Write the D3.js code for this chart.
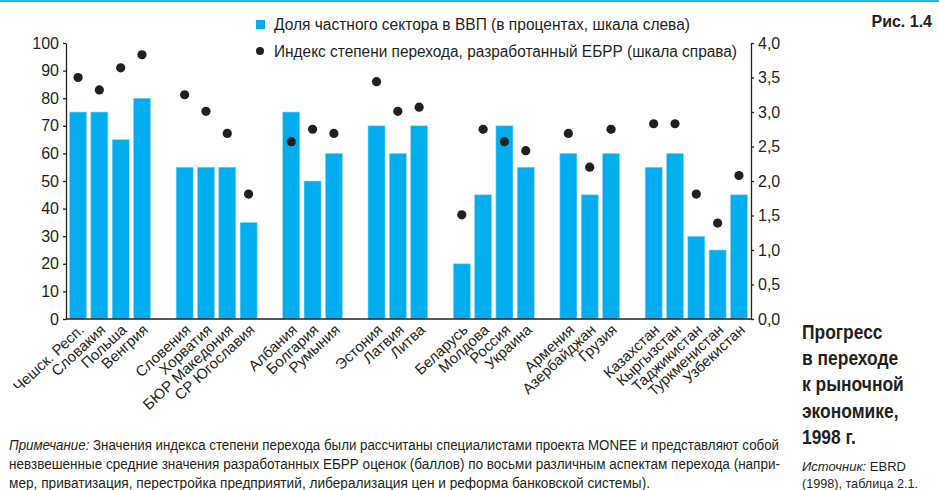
<!DOCTYPE html>
<html>
<head>
<meta charset="utf-8">
<script src="https://cdn.jsdelivr.net/npm/d3@7"></script>
<style>
  body { margin: 0; background: #fff; }
  svg { display: block; font-family: "Liberation Sans", Arial, sans-serif; }
  .axis path, .axis line { stroke: #231f20; stroke-width: 1.3; }
  .axis text { font-size: 16px; fill: #231f20; }
</style>
</head>
<body>
<svg id="chart"></svg>
<script>
/* data */
var countries = ["Чешск. Респ.", "Словакия", "Польша", "Венгрия",
  "Словения", "Хорватия", "БЮР Македония", "СР Югославия",
  "Албания", "Болгария", "Румыния",
  "Эстония", "Латвия", "Литва",
  "Беларусь", "Молдова", "Россия", "Украина",
  "Армения", "Азербайджан", "Грузия",
  "Казахстан", "Кыргызстан", "Таджикистан", "Туркменистан", "Узбекистан"];
var groupSizes = [4, 4, 3, 3, 4, 3, 5];
var privateShare = [75, 75, 65, 80,  55, 55, 55, 35,  75, 50, 60,  70, 60, 70,
  20, 45, 70, 55,  60, 45, 60,  55, 60, 30, 25, 45];
var transitionIndex = [3.5, 3.32, 3.64, 3.83,  3.25, 3.01, 2.69, 1.81,  2.57, 2.75, 2.69,
  3.44, 3.01, 3.07,  1.51, 2.75, 2.57, 2.44,  2.69, 2.2, 2.75,  2.83, 2.83, 1.81, 1.39, 2.08];
var leftTicks = [0, 10, 20, 30, 40, 50, 60, 70, 80, 90, 100];
var rightTicks = [0, 0.5, 1, 1.5, 2, 2.5, 3, 3.5, 4];

var W = 939, H = 490;
var svg = d3.select("#chart").attr("width", W).attr("height", H);

/* top rule */
svg.append("rect").attr("x", 0).attr("y", 0).attr("width", W).attr("height", 2).attr("fill", "#29b6ea");

/* slot domain: countries with one empty slot between groups */
var slots = [], k = 0;
groupSizes.forEach(function(n, gi) {
  for (var i = 0; i < n; i++) slots.push(countries[k++]);
  if (gi < groupSizes.length - 1) slots.push("gap" + gi);
});

var x = d3.scaleBand().domain(slots).range([66, 751]).paddingInner(0.2).paddingOuter(0.165);
var yL = d3.scaleLinear().domain([0, 100]).range([319, 43]);
var yR = d3.scaleLinear().domain([0, 4]).range([319, 43]);

var fmt = function(d) { return d3.format(".1f")(d).replace(".", ","); };

/* bars */
svg.append("g").selectAll("rect")
  .data(countries)
  .join("rect")
    .attr("x", function(d) { return x(d); })
    .attr("y", function(d, i) { return yL(privateShare[i]); })
    .attr("width", x.bandwidth())
    .attr("height", function(d, i) { return yL(0) - yL(privateShare[i]); })
    .attr("fill", "#00aeef")
    .attr("stroke", "#8fdcf8")
    .attr("stroke-width", 0.6);

/* dots */
svg.append("g").selectAll("circle")
  .data(countries)
  .join("circle")
    .attr("cx", function(d) { return x(d) + x.bandwidth() / 2; })
    .attr("cy", function(d, i) { return yR(transitionIndex[i]); })
    .attr("r", 4.6)
    .attr("fill", "#231f20");

/* axes */
svg.append("g")
    .attr("class", "axis")
    .attr("transform", "translate(66,0)")
    .call(d3.axisLeft(yL).tickValues(leftTicks).tickSize(3).tickSizeOuter(0).tickPadding(4));

svg.append("g")
    .attr("class", "axis")
    .attr("transform", "translate(751,0)")
    .call(d3.axisRight(yR).tickValues(rightTicks).tickFormat(fmt).tickSize(3).tickSizeOuter(0).tickPadding(4));

svg.append("line")
    .attr("x1", 66).attr("x2", 751).attr("y1", 319).attr("y2", 319)
    .attr("stroke", "#231f20").attr("stroke-width", 1.3);

/* rotated country labels */
svg.append("g").selectAll("text")
  .data(countries)
  .join("text")
    .attr("transform", function(d) {
      return "translate(" + (x(d) + x.bandwidth() / 2 + 7) + ",331) rotate(-43)";
    })
    .attr("text-anchor", "end")
    .attr("font-size", 15)
    .attr("fill", "#231f20")
    .text(function(d) { return d; });

/* legend */
var legend = svg.append("g").attr("font-size", 16).attr("fill", "#231f20");
legend.append("rect").attr("x", 256).attr("y", 20).attr("width", 9).attr("height", 9).attr("fill", "#00aeef");
legend.append("text").attr("x", 274).attr("y", 30)
  .attr("textLength", 416).attr("lengthAdjust", "spacingAndGlyphs")
  .text("Доля частного сектора в ВВП (в процентах, шкала слева)");
legend.append("circle").attr("cx", 260).attr("cy", 51).attr("r", 4).attr("fill", "#231f20");
legend.append("text").attr("x", 274).attr("y", 57)
  .attr("textLength", 463).attr("lengthAdjust", "spacingAndGlyphs")
  .text("Индекс степени перехода, разработанный ЕБРР (шкала справа)");

/* figure number */
svg.append("text").attr("x", 932).attr("y", 27).attr("text-anchor", "end")
  .attr("font-size", 16).attr("font-weight", "bold").attr("fill", "#231f20").text("Рис. 1.4");

/* side title, condensed */
var titleLines = ["Прогресс", "в переходе", "к рыночной", "экономике,", "1998 г."];
svg.append("g")
    .attr("transform", "translate(802,0) scale(0.85,1)")
  .selectAll("text")
  .data(titleLines)
  .join("text")
    .attr("x", 0)
    .attr("y", function(d, i) { return 339 + i * 26.2; })
    .attr("font-size", 20.5)
    .attr("font-weight", "bold")
    .attr("fill", "#231f20")
    .text(function(d) { return d; });

var src = svg.append("g").attr("font-size", 13.5).attr("fill", "#231f20");
var s1 = src.append("text").attr("x", 802).attr("y", 471)
  .attr("textLength", 104).attr("lengthAdjust", "spacingAndGlyphs");
s1.append("tspan").attr("font-style", "italic").text("Источник:");
s1.append("tspan").text(" EBRD");
src.append("text").attr("x", 802).attr("y", 488)
  .attr("textLength", 116).attr("lengthAdjust", "spacingAndGlyphs")
  .text("(1998), таблица 2.1.");

/* note */
var note = svg.append("g").attr("font-size", 14).attr("fill", "#231f20");
var n1 = note.append("text").attr("x", 9).attr("y", 450)
  .attr("textLength", 770).attr("lengthAdjust", "spacingAndGlyphs");
n1.append("tspan").attr("font-style", "italic").text("Примечание:");
n1.append("tspan").text(" Значения индекса степени перехода были рассчитаны специалистами проекта MONEE и представляют собой");
note.append("text").attr("x", 9).attr("y", 469)
  .attr("textLength", 771).attr("lengthAdjust", "spacingAndGlyphs")
  .text("невзвешенные средние значения разработанных ЕБРР оценок (баллов) по восьми различным аспектам перехода (напри-");
note.append("text").attr("x", 9).attr("y", 488)
  .attr("textLength", 641).attr("lengthAdjust", "spacingAndGlyphs")
  .text("мер, приватизация, перестройка предприятий, либерализация цен и реформа банковской системы).");
</script>
</body>
</html>
